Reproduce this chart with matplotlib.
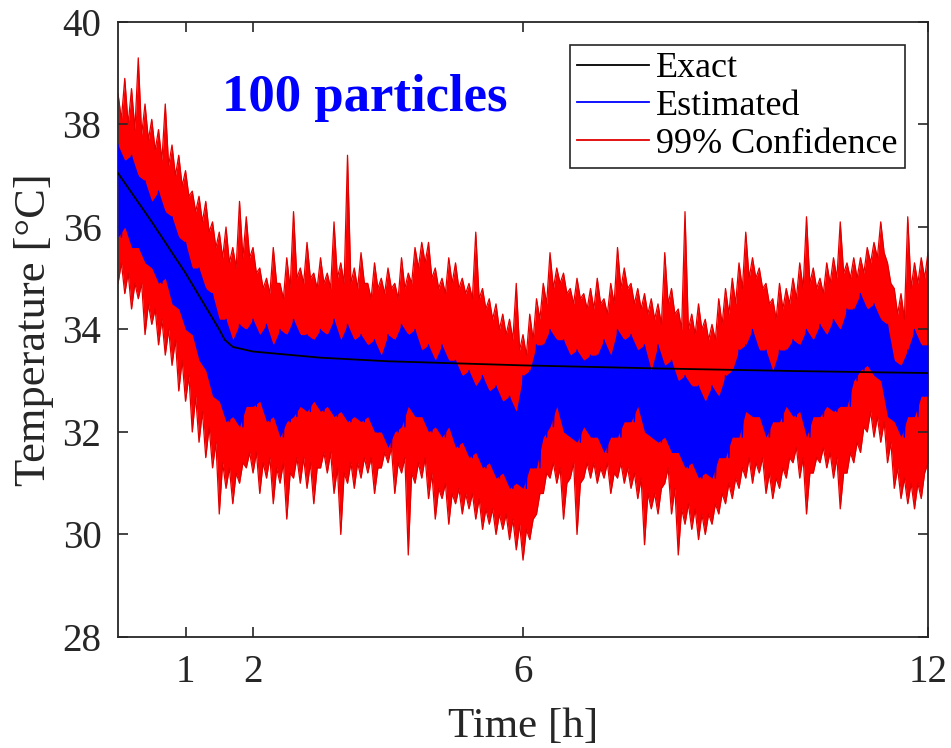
import numpy as np
import matplotlib
matplotlib.use("Agg")
import matplotlib.pyplot as plt

# time grid of the read-off values (every 0.1 h); troughs sit half way between
t_grid = np.arange(121) * 0.1

# "Exact" temperature
t_exact = [0.0, 0.5, 1.0, 1.5, 1.58, 1.7, 2.0, 3.0, 4.0, 6.0, 8.0, 10.0, 12.0]
exact = [37.05, 36.1, 35.1, 34.0, 33.8, 33.66, 33.57, 33.45, 33.38, 33.3, 33.24, 33.19, 33.15]

# upper 99% bound: spike tops / core level
upper_peak = [
    38.6, 38.9, 38.7, 39.3, 38.4, 38.1, 37.9, 38.4, 37.6, 37.4,
    37.1, 36.7, 36.6, 36.5, 36.1, 35.9, 36.0, 35.6, 36.5, 36.2,
    35.6, 35.2, 35.0, 35.6, 34.9, 35.4, 36.3, 35.2, 35.7, 35.1,
    35.4, 35.1, 36.1, 35.3, 37.4, 35.2, 35.5, 34.9, 35.3, 35.0,
    35.2, 34.9, 35.4, 35.1, 35.6, 35.7, 35.7, 35.2, 35.0, 35.4,
    35.3, 35.0, 34.9, 35.9, 34.8, 34.6, 34.5, 34.3, 34.2, 34.9,
    33.9, 34.3, 34.6, 34.9, 35.5, 35.2, 35.1, 34.8, 35.0, 34.7,
    34.8, 35.0, 34.6, 34.9, 35.6, 35.2, 34.9, 34.8, 34.7, 34.6,
    34.5, 35.5, 34.8, 34.4, 36.3, 34.3, 34.5, 34.2, 34.1, 34.6,
    34.8, 35.0, 35.3, 35.9, 35.4, 35.2, 34.9, 34.6, 34.9, 34.8,
    35.0, 35.3, 36.2, 35.2, 35.0, 35.3, 35.4, 36.1, 35.3, 35.4,
    35.4, 35.6, 35.7, 36.1, 35.3, 34.8, 34.7, 36.2, 35.3, 35.4,
    35.5,
]
upper_dip = [
    38.1, 38.0, 37.9, 37.8, 37.7, 37.5, 37.3, 37.2, 37.0, 36.8,
    36.6, 36.3, 36.1, 35.9, 35.6, 35.4, 35.3, 35.2, 35.4, 35.4,
    35.1, 34.8, 34.7, 34.9, 34.6, 34.8, 35.0, 34.9, 35.0, 34.8,
    34.9, 34.8, 35.0, 34.9, 34.9, 34.8, 34.9, 34.6, 34.8, 34.7,
    34.8, 34.6, 34.8, 34.9, 35.2, 35.3, 35.0, 34.8, 34.7, 34.9,
    34.8, 34.7, 34.6, 34.6, 34.4, 34.2, 34.0, 33.9, 33.8, 33.6,
    33.5, 33.8, 34.2, 34.5, 34.8, 34.9, 34.7, 34.5, 34.6, 34.4,
    34.4, 34.5, 34.3, 34.5, 34.8, 34.8, 34.5, 34.4, 34.3, 34.2,
    34.1, 34.5, 34.3, 34.0, 34.0, 33.9, 34.0, 33.8, 33.8, 34.1,
    34.3, 34.5, 34.8, 35.0, 35.0, 34.8, 34.5, 34.2, 34.4, 34.5,
    34.6, 34.8, 34.9, 34.8, 34.7, 34.9, 35.0, 35.1, 35.0, 35.0,
    35.1, 35.3, 35.4, 35.5, 34.9, 34.3, 34.2, 34.8, 34.9, 35.0,
    35.0,
]

# lower 99% bound: core level / spike bottoms
lower_peak = [
    35.3, 35.1, 34.9, 34.9, 34.5, 34.4, 34.2, 34.0, 33.8, 33.4,
    33.1, 32.7, 32.4, 32.1, 31.8, 31.4, 31.3, 31.2, 31.4, 31.6,
    31.6, 31.4, 31.5, 31.3, 31.4, 31.2, 31.5, 31.5, 31.4, 31.3,
    31.6, 31.6, 31.3, 31.2, 31.4, 31.4, 31.5, 31.5, 31.3, 31.6,
    31.7, 31.4, 31.5, 31.2, 31.4, 31.5, 31.2, 30.9, 31.0, 30.8,
    30.9, 30.8, 30.8, 30.7, 30.5, 30.5, 30.4, 30.4, 30.3, 30.2,
    30.1, 30.3, 30.8, 31.2, 31.4, 31.3, 31.0, 31.4, 31.0, 31.4,
    31.4, 31.3, 31.4, 31.2, 31.4, 31.3, 31.2, 31.1, 30.8, 30.8,
    30.9, 31.3, 30.9, 30.5, 30.6, 30.5, 30.4, 30.4, 30.6, 30.8,
    31.0, 31.1, 31.3, 31.5, 31.4, 31.5, 31.2, 31.1, 31.3, 31.5,
    31.7, 31.5, 31.2, 31.5, 31.7, 31.6, 31.5, 31.2, 31.6, 31.8,
    32.1, 32.4, 32.3, 32.2, 31.8, 31.3, 31.1, 31.0, 31.0, 31.2,
    31.6,
]
lower_dip = [
    34.9, 34.7, 34.4, 34.6, 33.9, 34.1, 33.7, 33.5, 33.3, 32.8,
    32.6, 32.0, 31.8, 31.5, 31.3, 30.4, 30.9, 30.6, 31.0, 31.3,
    31.2, 30.8, 31.1, 30.6, 31.0, 30.3, 31.1, 31.0, 30.9, 30.6,
    31.3, 31.2, 30.8, 30.0, 31.0, 30.9, 31.1, 31.2, 30.8, 31.3,
    31.4, 30.8, 31.2, 29.6, 31.0, 31.1, 30.7, 30.3, 30.7, 30.2,
    30.6, 30.4, 30.5, 30.3, 30.1, 30.2, 30.0, 30.1, 29.9, 29.7,
    29.5, 29.9, 30.4, 30.8, 31.1, 31.0, 30.3, 31.1, 30.0, 31.1,
    31.1, 31.0, 31.1, 30.8, 31.1, 31.0, 30.9, 30.7, 29.8, 30.5,
    30.4, 31.0, 30.4, 29.6, 30.2, 30.1, 29.9, 30.0, 30.2, 30.4,
    30.6, 30.7, 30.9, 31.1, 31.0, 31.2, 30.8, 30.7, 30.9, 31.1,
    31.4, 31.1, 30.4, 31.2, 31.4, 31.3, 31.1, 30.5, 31.2, 31.4,
    31.6, 32.0, 31.9, 31.8, 31.4, 30.9, 30.7, 30.6, 30.5, 30.7,
    31.4,
]

# estimated temperature: local peaks / troughs
est_peak = [
    37.6, 37.3, 37.4, 37.0, 36.9, 36.5, 36.7, 36.3, 36.2, 35.8,
    35.7, 35.2, 35.2, 34.8, 34.7, 34.2, 34.2, 33.8, 34.1, 34.0,
    34.2, 33.9, 34.1, 33.7, 34.0, 33.9, 34.2, 33.9, 33.9, 33.8,
    34.0, 33.9, 34.2, 33.8, 34.1, 33.8, 33.9, 33.7, 33.8, 33.5,
    33.9, 33.8, 34.1, 33.9, 34.0, 33.6, 33.7, 33.4, 33.7, 33.4,
    33.4, 33.1, 33.2, 32.9, 33.1, 32.8, 32.9, 32.6, 32.7, 32.4,
    33.1, 33.2, 33.7, 33.7, 34.0, 33.8, 33.8, 33.5, 33.6, 33.4,
    33.5, 33.5, 33.8, 33.5, 34.0, 33.8, 33.9, 33.6, 33.7, 33.2,
    33.7, 33.3, 33.4, 33.0, 33.1, 32.9, 32.9, 32.6, 32.9, 32.7,
    33.1, 33.2, 33.6, 33.7, 34.0, 33.6, 33.6, 33.2, 33.6, 33.6,
    33.8, 33.7, 34.0, 33.8, 34.1, 33.9, 34.2, 34.0, 34.4, 34.4,
    34.7, 34.4, 34.5, 34.2, 34.1, 33.4, 33.3, 33.6, 34.0, 33.7,
    33.7,
]
est_dip = [
    35.8, 36.0, 35.6, 35.6, 35.3, 35.2, 34.9, 35.0, 34.5, 34.4,
    34.0, 33.9, 33.4, 33.2, 32.7, 32.6, 32.2, 32.3, 32.1, 32.5,
    32.5, 32.6, 32.2, 32.3, 31.9, 32.2, 32.3, 32.5, 32.4, 32.6,
    32.4, 32.5, 32.3, 32.4, 32.2, 32.3, 32.2, 32.3, 32.0, 32.0,
    31.7, 32.0, 32.1, 32.5, 32.3, 32.3, 32.0, 32.1, 31.9, 32.1,
    31.7, 31.8, 31.5, 31.6, 31.3, 31.4, 31.1, 31.2, 30.9, 31.0,
    30.9, 31.3, 31.3, 31.9, 32.1, 32.5, 32.0, 31.9, 31.8, 32.1,
    31.9, 31.9, 31.6, 31.9, 31.9, 32.2, 32.2, 32.5, 32.0, 31.9,
    31.8, 31.9, 31.6, 31.6, 31.3, 31.4, 31.1, 31.2, 31.1, 31.5,
    31.5, 31.9, 31.9, 32.4, 32.3, 32.3, 31.9, 32.2, 32.2, 32.5,
    32.3, 32.4, 31.9, 32.3, 32.3, 32.5, 32.4, 32.5, 32.5, 33.0,
    33.2, 33.3, 33.1, 33.0, 32.3, 32.2, 31.9, 32.3, 32.3, 32.7,
    32.7,
]

x_ticks = [1, 2, 6, 12]
y_ticks = [28, 30, 32, 34, 36, 38, 40]


def zigzag(peaks, dips):
    # peaks at the grid points, troughs half a step later
    x = np.column_stack((t_grid, t_grid + 0.05)).ravel()[:-1]
    y = np.column_stack((peaks, dips)).ravel()[:-1]
    return x, y


plt.rcParams['font.family'] = ['Liberation Serif', 'DejaVu Serif']

fig = plt.figure(figsize=(9.51, 7.48), dpi=100)
ax = fig.add_axes([0.1241, 0.1484, 0.8517, 0.8222])

xu, yu = zigzag(upper_peak, upper_dip)
xl, yl = zigzag(lower_dip, lower_peak)
xe, ye = zigzag(est_peak, est_dip)

# confidence band (solid between the two noisy bounds)
ax.fill_between(xu, yl, yu, color='#ff0000', lw=0, zorder=1)
conf_line, = ax.plot(xu, yu, color='#e00000', lw=0.9, zorder=2)
ax.plot(xl, yl, color='#e00000', lw=0.9, zorder=2)

# estimate
ax.fill_between(t_grid, est_dip, est_peak, color='#0000ff', lw=0, zorder=3)
est_line, = ax.plot(xe, ye, color='#0000ff', lw=1.0, zorder=3)

exact_line, = ax.plot(t_exact, exact, color='black', lw=1.3, zorder=4)

ax.set_xlim(0, 12)
ax.set_ylim(28, 40)
ax.set_xticks(x_ticks)
ax.set_yticks(y_ticks)
ax.tick_params(direction='in', length=7, width=1.2, top=True, right=True,
               labelsize=28, colors='#262626', pad=12)
ax.tick_params(axis='x', pad=12)
for s in ax.spines.values():
    s.set_color('#262626')
    s.set_linewidth(1.3)

ax.set_xlabel('Time [h]', fontsize=31, color='#262626', labelpad=12)
ax.set_ylabel('Temperature [°C]', fontsize=32, color='#262626', labelpad=6)

ax.text(0.305, 0.877, '100 particles', transform=ax.transAxes, fontsize=38,
        fontweight='bold', color='#0000ff', ha='center', va='center')

leg = ax.legend([exact_line, est_line, conf_line],
                ['Exact', 'Estimated', '99% Confidence'],
                loc='upper right', bbox_to_anchor=(0.9716, 0.9626),
                fontsize=26, frameon=True, fancybox=False, framealpha=1,
                edgecolor='#262626', handlelength=2.0, handletextpad=0.2,
                labelspacing=0.12, borderpad=0.2, borderaxespad=0)
leg.get_frame().set_linewidth(1.2)
for h in leg.get_lines():
    h.set_linewidth(1.3)

fig.savefig('out.png', dpi=100)
